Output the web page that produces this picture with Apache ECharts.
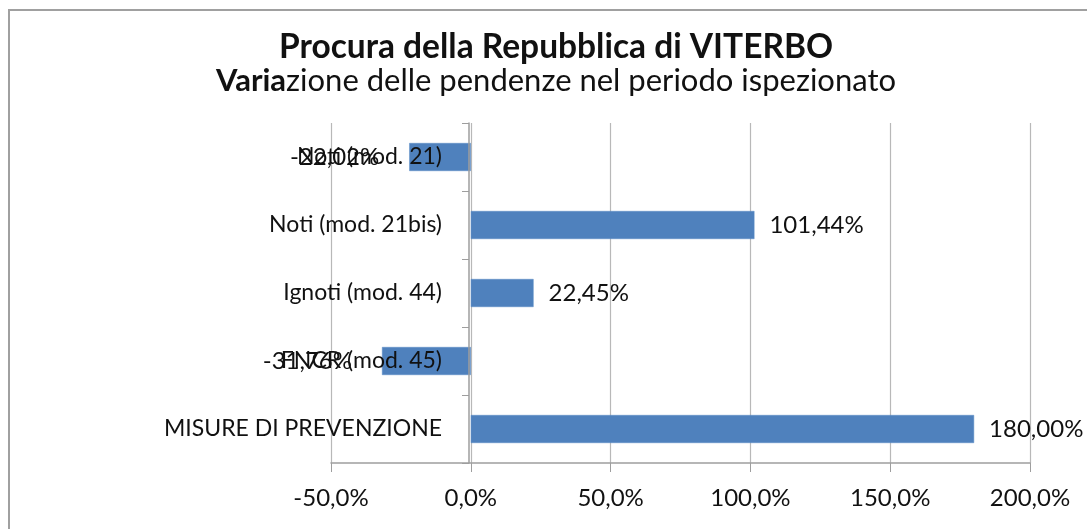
<!DOCTYPE html>
<html>
<head>
<meta charset="utf-8">
<script src="https://cdn.jsdelivr.net/npm/echarts@6/dist/echarts.min.js"></script>
<style>
  html, body { margin: 0; padding: 0; background: #fff; }
  #chart { width: 1087px; height: 529px; }
</style>
</head>
<body>
<div id="chart"></div>
<script>
// categorie (dall'alto verso il basso)
var categories = ['Noti (mod. 21)', 'Noti (mod. 21bis)', 'Ignoti (mod. 44)', 'FNCR (mod. 45)', 'MISURE DI PREVENZIONE'];
// variazione percentuale delle pendenze
var variazioni = [-22.02, 101.44, 22.45, -31.76, 180.00];
// asse x
var xMin = -50, xMax = 200, xStep = 50;

var titolo1 = 'Procura della Repubblica di VITERBO';
var titolo2a = 'Varia';
var titolo2b = 'zione delle pendenze nel periodo ispezionato';

var FONT = 'Lato, "Open Sans", sans-serif';
var TXT = '#111';

function virgola(v, d) {
    return v.toFixed(d).replace('.', ',') + '%';
}

var myChart = echarts.init(document.getElementById('chart'));

var barData = variazioni.map(function (v) {
    if (v < 0) {
        return { value: v, label: { position: 'left', distance: 30 } };
    }
    return { value: v };
});

option = {
    backgroundColor: '#fff',
    animation: false,
    graphic: [{
        type: 'rect',
        shape: { x: 9, y: 10, width: 1200, height: 700 },
        style: { fill: 'none', stroke: '#a0a0a0', lineWidth: 2 },
        z: -1
    }],
    title: {
        left: 551,
        top: 26,
        textAlign: 'center',
        text: '{b|' + titolo1 + '}\n{vb|' + titolo2a + '}{n|' + titolo2b + '}',
        textStyle: {
            fontWeight: 'normal',
            rich: {
                b: { fontFamily: FONT, fontSize: 33.5, fontWeight: 'bold', color: TXT, lineHeight: 33 },
                vb: { fontFamily: FONT, fontSize: 31, fontWeight: 'bold', color: TXT, lineHeight: 33 },
                n: { fontFamily: FONT, fontSize: 31, fontWeight: 'normal', color: TXT, lineHeight: 33 }
            }
        }
    },
    grid: {
        left: 331,
        right: 57,
        top: 123,
        bottom: 66
    },
    xAxis: {
        type: 'value',
        min: xMin,
        max: xMax,
        interval: xStep,
        axisLine: { show: true, onZero: false, lineStyle: { color: '#9e9e9e', width: 1.5 } },
        axisTick: { show: true, length: 9, lineStyle: { color: '#9e9e9e' } },
        splitLine: { show: true, lineStyle: { color: '#b8b8b8', width: 1.2 } },
        axisLabel: {
            margin: 23,
            fontFamily: FONT,
            fontSize: 24,
            color: TXT,
            formatter: function (v) { return virgola(v, 1); }
        }
    },
    yAxis: {
        type: 'category',
        inverse: true,
        data: categories,
        z: 10,
        // asse spostato sullo zero con offset (etichette comprese)
        offset: -138,
        axisLine: { show: true, onZero: false, lineStyle: { color: '#9e9e9e', width: 1.5 } },
        axisTick: { show: true, length: 7, alignWithLabel: false, lineStyle: { color: '#9e9e9e' } },
        splitLine: { show: false },
        axisLabel: {
            margin: 27,
            fontFamily: FONT,
            fontSize: 23,
            color: TXT
        }
    },
    series: [{
        type: 'bar',
        data: barData,
        barWidth: 28,
        itemStyle: { color: '#4F81BD', borderColor: '#5b8cc6', borderWidth: 0.5 },
        label: {
            show: true,
            position: 'right',
            distance: 15,
            fontFamily: FONT,
            fontSize: 24,
            color: TXT,
            formatter: function (p) { return virgola(p.value, 2); }
        }
    }]
};
myChart.setOption(option);
</script>
</body>
</html>
